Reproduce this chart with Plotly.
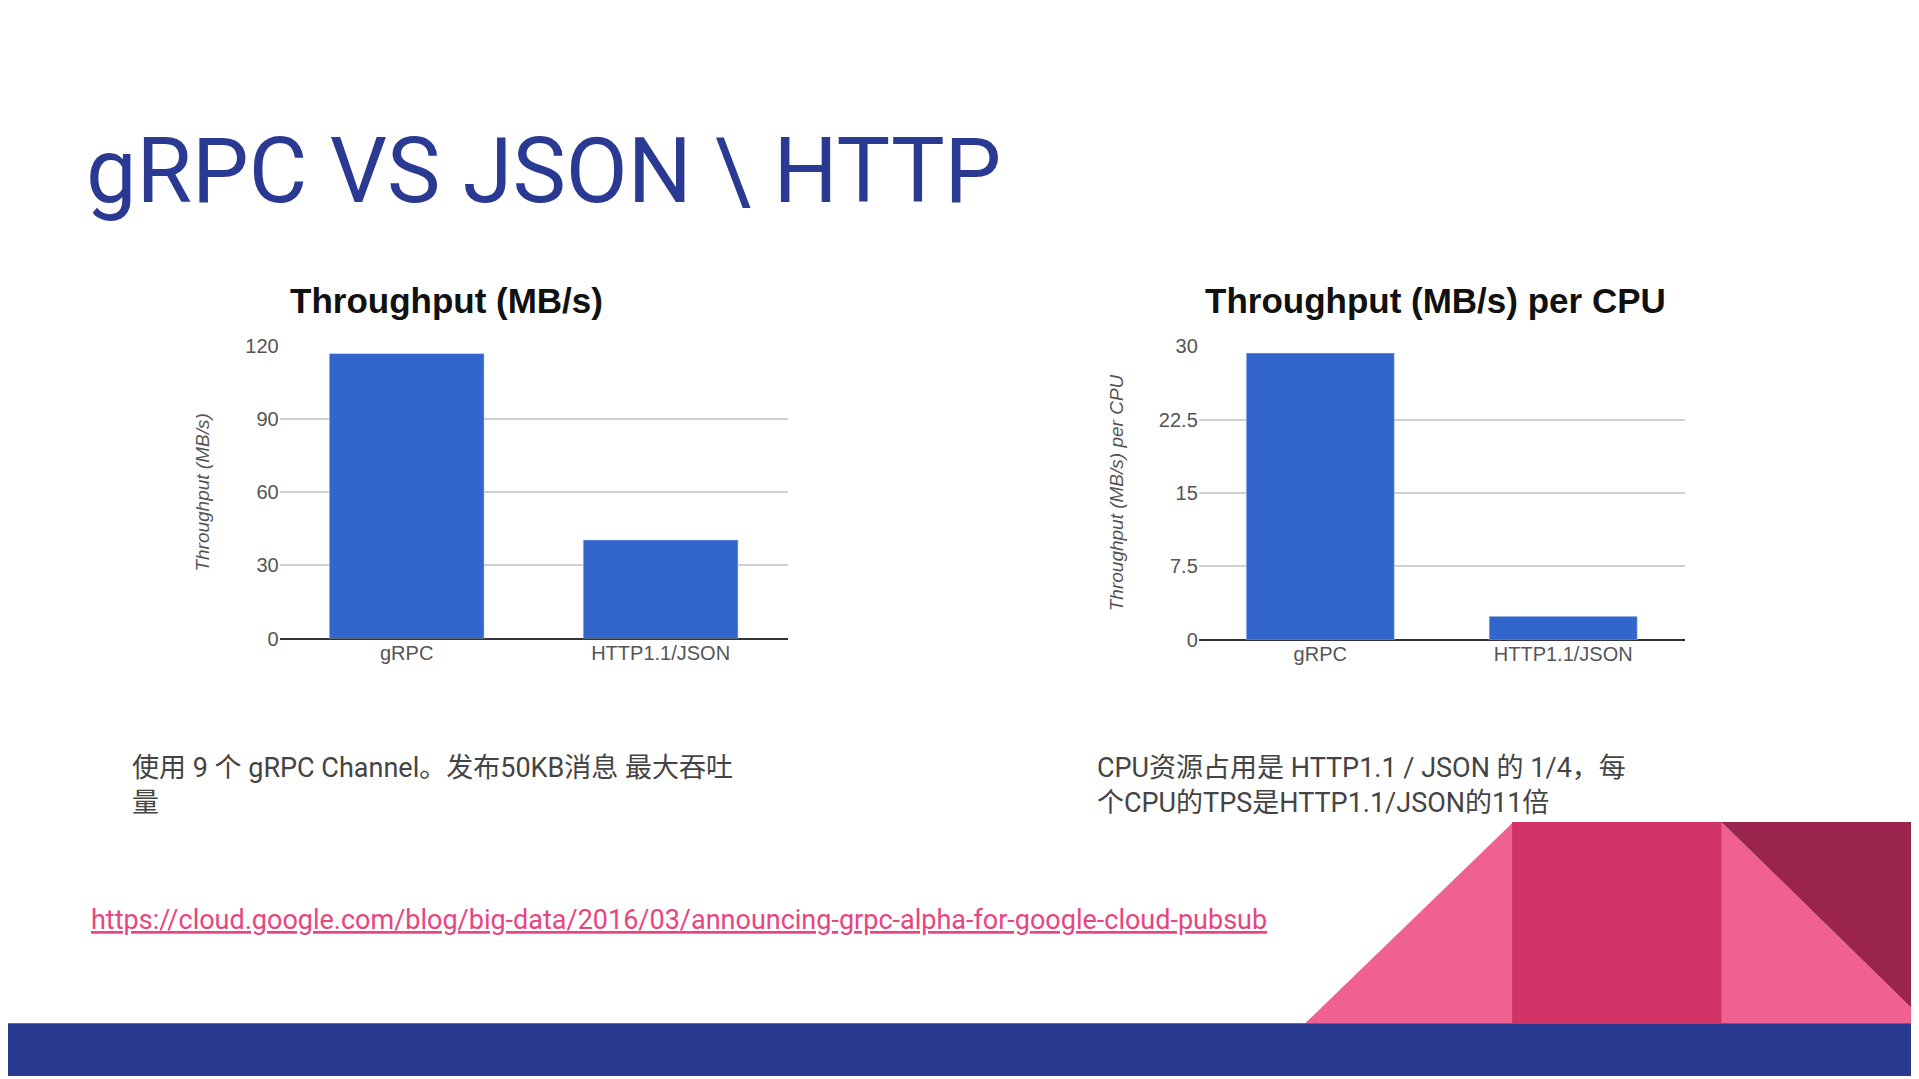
import plotly.graph_objects as go

categories = ["gRPC", "HTTP1.1/JSON"]
throughput = [117, 40.5]
throughput_per_cpu = [29.3, 2.4]
ticks1 = [0, 30, 60, 90, 120]
ticks2 = [0, 7.5, 15, 22.5, 30]
tick2_labels = ["0", "7.5", "15", "22.5", "30"]

W, H = 1568.0, 882.0
def fx(x): return x / W
def fy(y): return 1 - y / H

BLUE = "#3366cc"
fig = go.Figure()
fig.add_bar(x=categories, y=throughput, marker_color=BLUE, xaxis="x", yaxis="y", width=0.61)
fig.add_bar(x=categories, y=throughput_per_cpu, marker_color=BLUE, xaxis="x2", yaxis="y2", width=0.61)

axfont = dict(family="Liberation Sans, Arial", size=20, color="#555")
common_y = dict(showgrid=True, gridcolor="#d0d0d0", gridwidth=1.5, zeroline=True, zerolinecolor="#333",
                zerolinewidth=2, tickfont=axfont, ticks="", showline=False, fixedrange=True)
fig.update_layout(
    width=1919, height=1079, margin=dict(l=0, r=0, t=0, b=0),
    paper_bgcolor="white", plot_bgcolor="white", showlegend=False,
    xaxis=dict(domain=[fx(222), fx(637)], anchor="y", tickfont=axfont, showline=False),
    yaxis=dict(domain=[fy(517), fy(273)], anchor="x", range=[0, 120], tickvals=ticks1, **common_y,
               title=dict(text="<i>Throughput (MB/s)</i>", font=dict(family="Liberation Sans, Arial", size=19, color="#555"), standoff=30)),
    xaxis2=dict(domain=[fx(973), fx(1370)], anchor="y2", tickfont=axfont, showline=False),
    yaxis2=dict(domain=[fy(518), fy(273)], anchor="x2", range=[0, 30], tickvals=ticks2, ticktext=tick2_labels, **common_y,
                title=dict(text="<i>Throughput (MB/s) per CPU</i>", font=dict(family="Liberation Sans, Arial", size=19, color="#555"), standoff=30)),
)

ann = []
def text(x, y, t, size, color, family="Roboto", xanchor="left", yanchor="middle"):
    ann.append(dict(x=fx(x), y=fy(y), xref="paper", yref="paper", text=t, showarrow=False,
                    xanchor=xanchor, yanchor=yanchor, align="left",
                    font=dict(size=size, color=color, family=family)))

text(62, 127, "gRPC VS JSON \\ HTTP", 90, "#2a3a93")
text(358, 235, "<b>Throughput (MB/s)</b>", 35, "#111", family="Liberation Sans, Arial", xanchor="center")
text(1166, 235, "<b>Throughput (MB/s) per CPU</b>", 35, "#111", family="Liberation Sans, Arial", xanchor="center")
text(100, 640, "使用 9 个 gRPC Channel。发布50KB消息 最大吞吐<br>量", 27, "#444", family="Roboto, Noto Sans CJK SC")
text(888, 640, "CPU资源占用是 HTTP1.1 / JSON 的 1/4，每<br>个CPU的TPS是HTTP1.1/JSON的11倍", 27, "#444", family="Roboto, Noto Sans CJK SC")
text(66, 752, "<u>https://cloud.google.com/blog/big-data/2016/03/announcing-grpc-alpha-for-google-cloud-pubsub</u>", 27, "#e8457f")
fig.update_layout(annotations=ann)

def poly(pts, color):
    path = "M " + " L ".join(f"{fx(x)},{fy(y)}" for x, y in pts) + " Z"
    return dict(type="path", xref="paper", yref="paper", path=path, fillcolor=color, line=dict(width=0), layer="above")

shapes = [
    poly([(1060, 838), (1230, 670), (1230, 838)], "#f06090"),
    poly([(1229, 670), (1401, 670), (1401, 838), (1229, 838)], "#d23366"),
    poly([(1400, 670), (1568, 838), (1400, 838)], "#f06090"),
    poly([(1400, 670), (1568, 670), (1568, 838)], "#9b244f"),
    poly([(0, 838), (1568, 838), (1568, 882), (0, 882)], "#283a8f"),
]
fig.update_layout(shapes=shapes)
fig.write_html("out.html")
